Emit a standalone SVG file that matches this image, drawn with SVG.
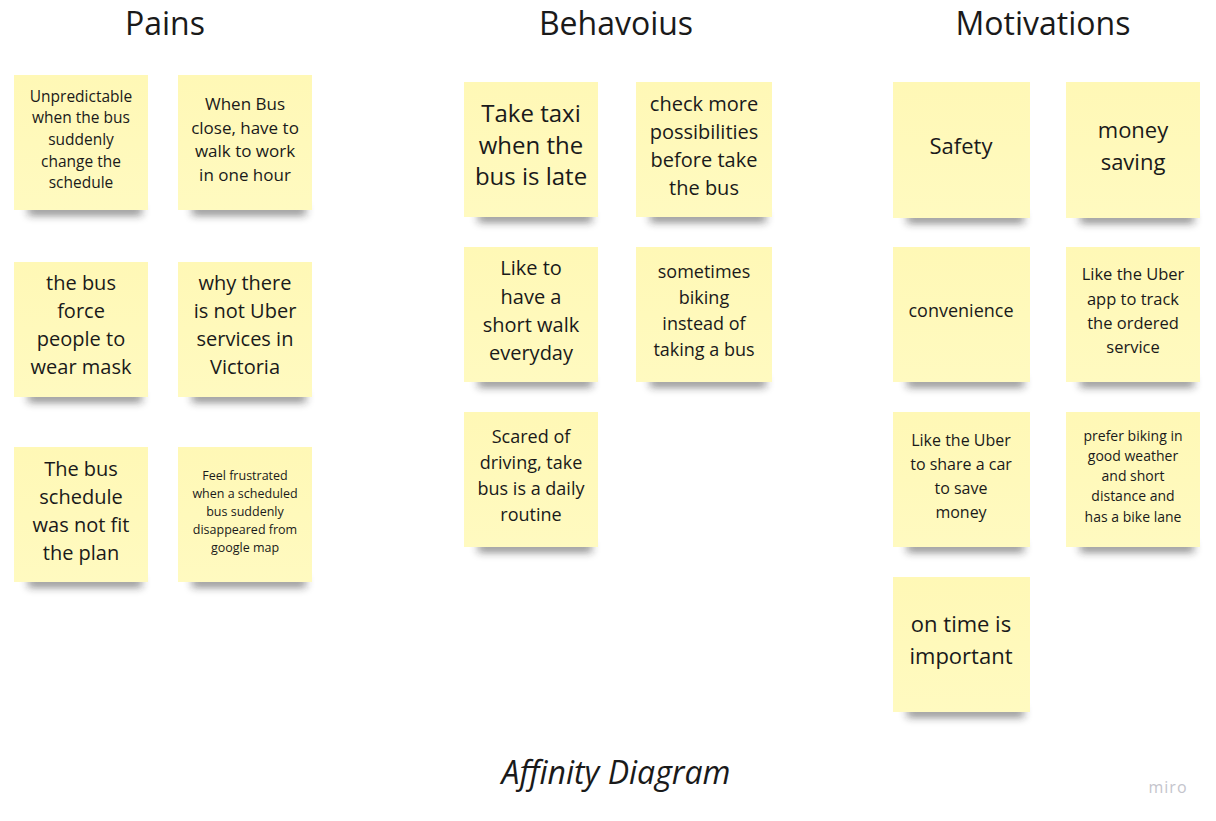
<svg xmlns="http://www.w3.org/2000/svg" width="1216" height="821" viewBox="0 0 1216 821">
<style>
.title{font-family:"Open Sans","Liberation Sans",sans-serif;font-size:32px;fill:#1a1a1a;text-anchor:middle}
.t{font-family:"Open Sans","Liberation Sans",sans-serif;fill:#1a1a1a;text-anchor:middle}
.sh{fill:#222;opacity:0.55;filter:url(#blur)}
</style>
<defs>
<filter id="blur" x="-20%" y="-300%" width="140%" height="700%"><feGaussianBlur stdDeviation="4.5"/></filter>
<linearGradient id="g" x1="0" y1="0" x2="0" y2="1">
<stop offset="0" stop-color="#FFF8B6"/><stop offset="1" stop-color="#FFFAC0"/>
</linearGradient>
</defs>
<rect width="1216" height="821" fill="#fff"/>
<text class="title" x="165" y="35">Pains</text>
<text class="title" x="616" y="35">Behavoius</text>
<text class="title" x="1043" y="35">Motivations</text>

<g id="p1"><rect class="sh" x="28" y="206" width="114" height="9"/><rect x="14" y="75" width="134" height="135" fill="url(#g)"/>
<text class="t" font-size="15.5" x="81"><tspan x="81" y="102">Unpredictable</tspan><tspan x="81" y="123">when  the bus</tspan><tspan x="81" y="145">suddenly</tspan><tspan x="81" y="167">change the</tspan><tspan x="81" y="188">schedule</tspan></text></g>
<g id="p2"><rect class="sh" x="192" y="206" width="114" height="9"/><rect x="178" y="75" width="134" height="135" fill="url(#g)"/>
<text class="t" font-size="17" x="245"><tspan x="245" y="110">When Bus</tspan><tspan x="245" y="134">close, have to</tspan><tspan x="245" y="157">walk to work</tspan><tspan x="245" y="181">in one hour</tspan></text></g>

<g id="p3"><rect class="sh" x="28" y="393" width="114" height="9"/><rect x="14" y="262" width="134" height="135" fill="url(#g)"/>
<text class="t" font-size="20" x="81"><tspan x="81" y="290">the bus</tspan><tspan x="81" y="318">force</tspan><tspan x="81" y="346">people to</tspan><tspan x="81" y="374">wear mask</tspan></text></g>
<g id="p4"><rect class="sh" x="192" y="393" width="114" height="9"/><rect x="178" y="262" width="134" height="135" fill="url(#g)"/>
<text class="t" font-size="20" x="245"><tspan x="245" y="290">why there</tspan><tspan x="245" y="318">is not Uber</tspan><tspan x="245" y="346">services in</tspan><tspan x="245" y="374">Victoria</tspan></text></g>

<g id="p5"><rect class="sh" x="28" y="578" width="114" height="9"/><rect x="14" y="447" width="134" height="135" fill="url(#g)"/>
<text class="t" font-size="20" x="81"><tspan x="81" y="476">The bus</tspan><tspan x="81" y="504">schedule</tspan><tspan x="81" y="532">was not fit</tspan><tspan x="81" y="560">the plan</tspan></text></g>
<g id="p6"><rect class="sh" x="192" y="578" width="114" height="9"/><rect x="178" y="447" width="134" height="135" fill="url(#g)"/>
<text class="t" font-size="12.5" x="245"><tspan x="245" y="479.5">Feel frustrated</tspan><tspan x="245" y="497.5">when a scheduled</tspan><tspan x="245" y="515.5">bus suddenly</tspan><tspan x="245" y="533.5">disappeared from</tspan><tspan x="245" y="551.5">google map</tspan></text></g>

<g id="b1"><rect class="sh" x="478" y="213" width="114" height="9"/><rect x="464" y="82" width="134" height="135" fill="url(#g)"/>
<text class="t" font-size="24" x="531"><tspan x="531" y="122">Take taxi</tspan><tspan x="531" y="154">when the</tspan><tspan x="531" y="185">bus is late</tspan></text></g>
<g id="b2"><rect class="sh" x="650" y="213" width="116" height="9"/><rect x="636" y="82" width="136" height="135" fill="url(#g)"/>
<text class="t" font-size="20" x="704"><tspan x="704" y="111">check more</tspan><tspan x="704" y="139">possibilities</tspan><tspan x="704" y="167">before take</tspan><tspan x="704" y="195">the bus</tspan></text></g>

<g id="b3"><rect class="sh" x="478" y="378" width="114" height="9"/><rect x="464" y="247" width="134" height="135" fill="url(#g)"/>
<text class="t" font-size="20" x="531"><tspan x="531" y="275">Like to</tspan><tspan x="531" y="304">have a</tspan><tspan x="531" y="332">short walk</tspan><tspan x="531" y="360">everyday</tspan></text></g>
<g id="b4"><rect class="sh" x="650" y="378" width="116" height="9"/><rect x="636" y="247" width="136" height="135" fill="url(#g)"/>
<text class="t" font-size="18" x="704"><tspan x="704" y="277.5">sometimes</tspan><tspan x="704" y="303.5">biking</tspan><tspan x="704" y="329.5">instead of</tspan><tspan x="704" y="355.5">taking a bus</tspan></text></g>

<g id="b5"><rect class="sh" x="478" y="543" width="114" height="9"/><rect x="464" y="412" width="134" height="135" fill="url(#g)"/>
<text class="t" font-size="18" x="531"><tspan x="531" y="442.5">Scared of</tspan><tspan x="531" y="468.5">driving, take</tspan><tspan x="531" y="494.5">bus is a daily</tspan><tspan x="531" y="520.5">routine</tspan></text></g>

<g id="m1"><rect class="sh" x="907" y="214" width="117" height="9"/><rect x="893" y="82" width="137" height="136" fill="url(#g)"/>
<text class="t" font-size="22" x="961"><tspan x="961" y="154">Safety</tspan></text></g>
<g id="m2"><rect class="sh" x="1080" y="214" width="114" height="9"/><rect x="1066" y="82" width="134" height="136" fill="url(#g)"/>
<text class="t" font-size="22" x="1133"><tspan x="1133" y="138">money</tspan><tspan x="1133" y="170">saving</tspan></text></g>

<g id="m3"><rect class="sh" x="907" y="378" width="117" height="9"/><rect x="893" y="247" width="137" height="135" fill="url(#g)"/>
<text class="t" font-size="18" x="961"><tspan x="961" y="316.5">convenience</tspan></text></g>
<g id="m4"><rect class="sh" x="1080" y="378" width="114" height="9"/><rect x="1066" y="247" width="134" height="135" fill="url(#g)"/>
<text class="t" font-size="16.5" x="1133"><tspan x="1133" y="280">Like the Uber</tspan><tspan x="1133" y="305">app to track</tspan><tspan x="1133" y="329">the ordered</tspan><tspan x="1133" y="353">service</tspan></text></g>

<g id="m5"><rect class="sh" x="907" y="543" width="117" height="9"/><rect x="893" y="412" width="137" height="135" fill="url(#g)"/>
<text class="t" font-size="16" x="961"><tspan x="961" y="446">Like the Uber</tspan><tspan x="961" y="470">to share a car</tspan><tspan x="961" y="494">to save</tspan><tspan x="961" y="518">money</tspan></text></g>
<g id="m6"><rect class="sh" x="1080" y="543" width="114" height="9"/><rect x="1066" y="412" width="134" height="135" fill="url(#g)"/>
<text class="t" font-size="14" x="1133"><tspan x="1133" y="441">prefer biking in</tspan><tspan x="1133" y="461">good weather</tspan><tspan x="1133" y="481">and short</tspan><tspan x="1133" y="501">distance and</tspan><tspan x="1133" y="522">has a bike lane</tspan></text></g>

<g id="m7"><rect class="sh" x="907" y="708" width="117" height="9"/><rect x="893" y="577" width="137" height="135" fill="url(#g)"/>
<text class="t" font-size="22" x="961"><tspan x="961" y="632">on time is</tspan><tspan x="961" y="664">important</tspan></text></g>

<text class="title" font-style="italic" x="616" y="784">Affinity Diagram</text>
<text x="1168" y="793" font-family="'Open Sans','Liberation Sans',sans-serif" font-size="16" fill="#c4c4cc" text-anchor="middle" letter-spacing="1">miro</text>
</svg>
